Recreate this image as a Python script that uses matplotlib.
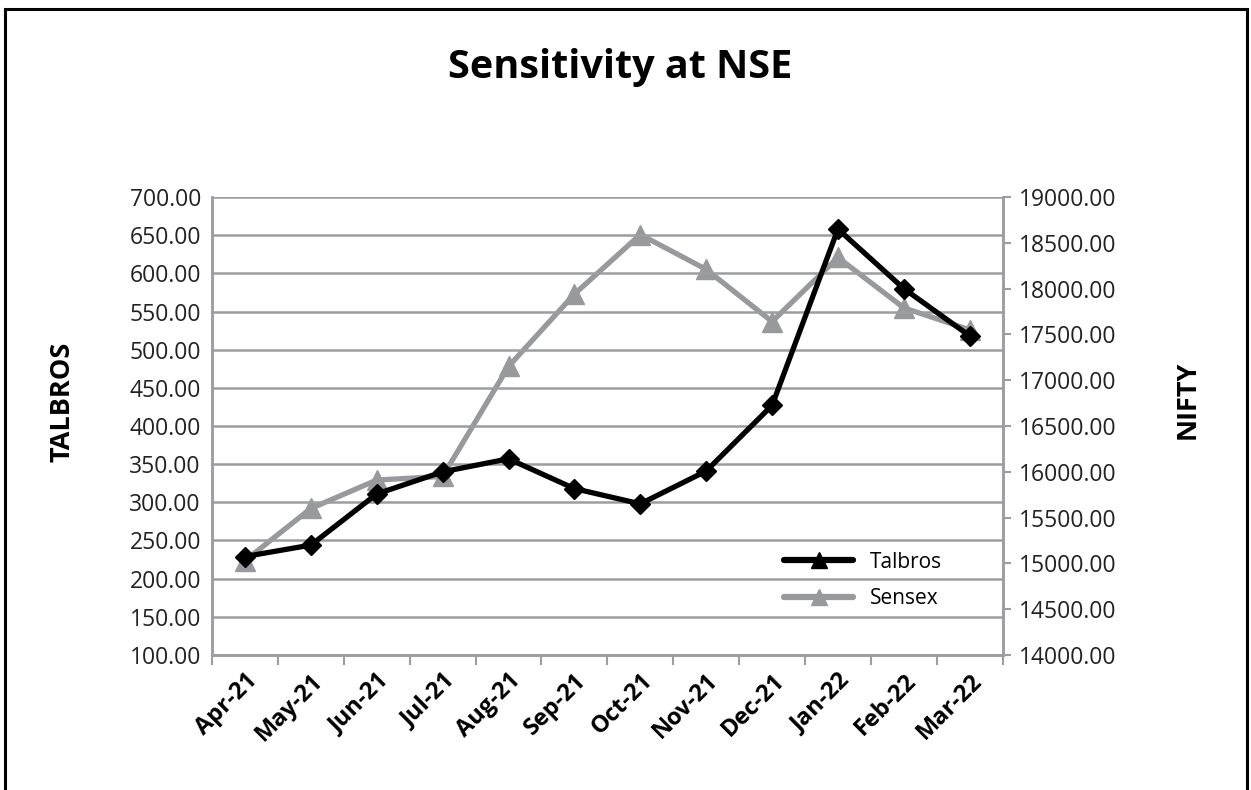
import matplotlib
matplotlib.use("Agg")
import matplotlib.pyplot as plt
import numpy as np
from matplotlib.patches import Rectangle
from matplotlib.lines import Line2D

# monthly closing values
months = ["Apr-21", "May-21", "Jun-21", "Jul-21", "Aug-21", "Sep-21",
          "Oct-21", "Nov-21", "Dec-21", "Jan-22", "Feb-22", "Mar-22"]
talbros = [229, 244, 311, 340, 357, 318, 298, 341, 427, 658, 580, 518]
sensex = [15030, 15600, 15910, 15950, 17150, 17940, 18590, 18210, 17640, 18340, 17790, 17550]

plt.rcParams['font.family'] = ['Open Sans', 'DejaVu Sans']
grid_col = '#9b9da1'
grey_line = '#98999c'
text_col = '#222222'

fig = plt.figure(figsize=(12.51, 7.9), dpi=100)
ax = fig.add_axes([0.1695, 0.1709, 0.632, 0.5797])
ax2 = ax.twinx()

x = np.arange(len(months))
ax.plot(x, talbros, color='black', lw=3.8, marker='D', markersize=10, zorder=4)
ax2.plot(x, sensex, color=grey_line, lw=3.8, marker='^', markersize=14, zorder=3)
ax.set_zorder(ax2.get_zorder() + 1)
ax.patch.set_visible(False)

left_ticks = np.arange(100, 701, 50)
right_ticks = np.arange(14000, 19001, 500)
ax.set_xlim(-0.5, len(months) - 0.5)
ax.set_ylim(100, 700)
ax.set_yticks(left_ticks)
ax.set_yticklabels([f"{v:.2f}" for v in left_ticks], fontsize=16.5, color=text_col)
ax2.set_ylim(14000, 19000)
ax2.set_yticks(right_ticks)
ax2.set_yticklabels([f"{v:.2f}" for v in right_ticks], fontsize=16.5, color=text_col)

ax.yaxis.grid(True, color=grid_col, lw=1.8)
ax.set_axisbelow(True)
ax.tick_params(axis='y', length=0, pad=8)
ax2.tick_params(axis='y', length=6, width=1.5, color=grid_col, pad=6)

ax.set_xticks(x)
ax.set_xticklabels(months, rotation=45, ha='right', rotation_mode='anchor',
                   fontsize=17, fontweight='bold')
ax.set_xticks(np.arange(-0.5, len(months), 1), minor=True)
ax.tick_params(axis='x', which='major', length=0, pad=10)
ax.tick_params(axis='x', which='minor', length=7, width=1.5, color=grid_col)

for a in (ax, ax2):
    a.spines['top'].set_visible(False)
    for side in ('left', 'bottom', 'right'):
        a.spines[side].set_color(grid_col)
        a.spines[side].set_linewidth(1.8)

fig.text(0.0496, 0.491, "TALBROS", rotation=90, ha='center', va='center',
         fontsize=19.5, fontweight='bold')
fig.text(0.949, 0.494, "NIFTY", rotation=90, ha='center', va='center',
         fontsize=19.5, fontweight='bold')

fig.text(0.496, 0.914, "Sensitivity at NSE", ha='center', va='center',
         fontsize=28.5, fontweight='bold')

# legend keys use the triangle for both series
handles = [Line2D([], [], color='black', lw=4.5, marker='^', markersize=12,
                  solid_capstyle='round'),
           Line2D([], [], color=grey_line, lw=4.5, marker='^', markersize=12,
                  solid_capstyle='round')]
ax.legend(handles, ['Talbros', 'Sensex'], loc='center left', bbox_to_anchor=(0.7, 0.163),
          frameon=False, fontsize=15, handlelength=3.3, labelspacing=0.75)

fig.patches.append(Rectangle((0.004, -0.05), 0.993, 1.039, transform=fig.transFigure,
                             fill=False, edgecolor='black', lw=2.2))

fig.savefig("out.png", dpi=100)
